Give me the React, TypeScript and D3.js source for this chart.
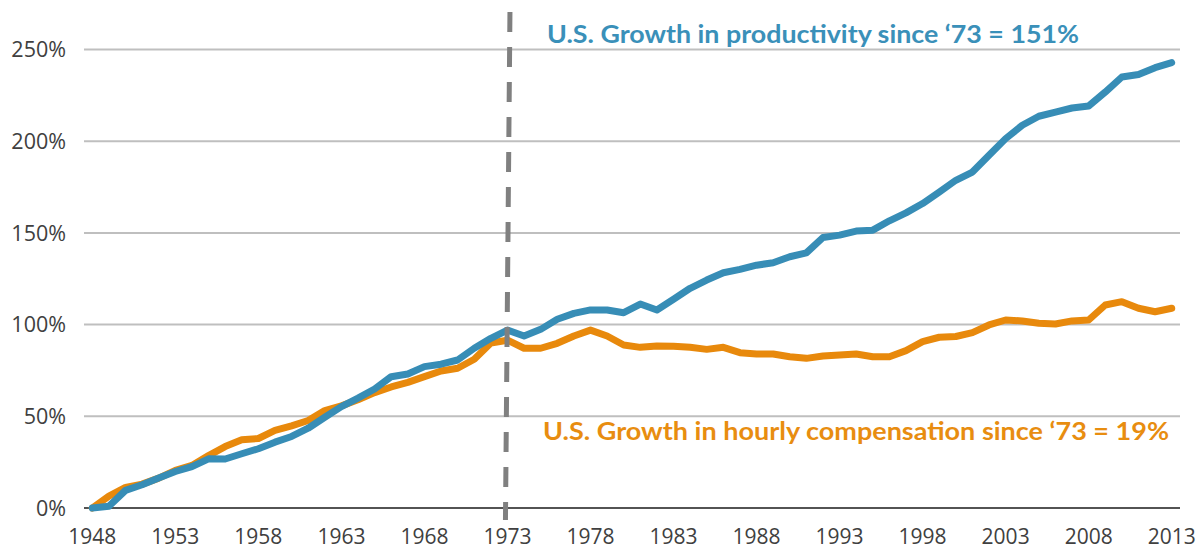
import React from "react";
import * as d3 from "d3";

const years: number[] = [
  1948, 1949, 1950, 1951, 1952, 1953, 1954, 1955, 1956, 1957,
  1958, 1959, 1960, 1961, 1962, 1963, 1964, 1965, 1966, 1967,
  1968, 1969, 1970, 1971, 1972, 1973, 1974, 1975, 1976, 1977,
  1978, 1979, 1980, 1981, 1982, 1983, 1984, 1985, 1986, 1987,
  1988, 1989, 1990, 1991, 1992, 1993, 1994, 1995, 1996, 1997,
  1998, 1999, 2000, 2001, 2002, 2003, 2004, 2005, 2006, 2007,
  2008, 2009, 2010, 2011, 2012, 2013,
];

const productivity: number[] = [
  0, 1, 9.6, 12.7, 16.3, 19.9, 22.6, 26.8, 26.7, 29.6,
  32.3, 35.9, 39, 43.5, 49.5, 55.3, 59.9, 64.9, 71.6, 73.1,
  77.1, 78.4, 80.7, 87.1, 92.5, 97.0, 93.8, 97.4, 102.9, 106.1,
  108, 108, 106.5, 111.2, 108, 113.8, 119.8, 124.3, 128.3, 130.1,
  132.4, 133.7, 137, 139.1, 147.5, 148.8, 151, 151.5, 156.6, 160.9,
  166, 172.3, 178.7, 183.2, 192.3, 201.4, 208.7, 213.6, 215.9, 218.1,
  219.2, 226.8, 235, 236.4, 240.1, 242.8,
];

const compensation: number[] = [
  0, 6.5, 11.2, 13, 16.3, 20.5, 23.2, 28.6, 33.5, 37.2,
  37.9, 42.3, 44.8, 47.7, 53.1, 55.7, 59, 62.9, 66, 68.5,
  71.6, 74.7, 76.2, 81.1, 90, 91.5, 87.1, 87.1, 89.8, 93.8,
  97, 93.8, 88.9, 87.6, 88.3, 88.2, 87.6, 86.5, 87.6, 84.7,
  84, 84, 82.5, 81.6, 82.9, 83.4, 84, 82.5, 82.5, 85.8,
  90.7, 93.1, 93.5, 95.6, 99.8, 102.5, 102, 100.7, 100.3, 102,
  102.5, 110.7, 112.5, 108.9, 107, 108.9,
];

const yTicks: number[] = [0, 50, 100, 150, 200, 250];
const xTickLabels: number[] = [1948, 1953, 1958, 1963, 1968, 1973, 1978, 1983, 1988, 1993, 1998, 2003, 2008, 2013];
const markerYear = 1973;
const prodLabel = "U.S. Growth in productivity since \u201873 = 151%";
const compLabel = "U.S. Growth in hourly compensation since \u201873 = 19%";

const W = 1202;
const H = 551;
const BLUE = "#378DB6";
const ORANGE = "#E8890C";

export default function App() {
  const x = d3.scaleBand<number>().domain(years).range([84, 1180]);
  const cx = (yr: number) => (x(yr) as number) + x.bandwidth() / 2;
  const y = d3.scaleLinear().domain([0, 250]).range([508, 49.5]);

  const line = d3
    .line<number>()
    .x((_, i) => cx(years[i]))
    .y((d) => y(d));

  const mx = cx(markerYear);
  const axisFont = "'Open Sans', 'Noto Sans', sans-serif";
  const titleFont = "Lato, 'Open Sans', sans-serif";

  return (
    <svg
      width={W}
      height={H}
      viewBox={`0 0 ${W} ${H}`}
      style={{ position: "absolute", left: 0, top: 0, background: "#fff" }}
    >
      <rect x={0} y={0} width={W} height={H} fill="#fff" />
      {yTicks.map((t) =>
        t === 0 ? null : (
          <line key={"g" + t} x1={84} x2={1180} y1={y(t)} y2={y(t)} stroke="#bfbfbf" strokeWidth={2} />
        )
      )}
      <line x1={84} x2={1180} y1={y(0)} y2={y(0)} stroke="#1a1a1a" strokeWidth={1.4} />
      {yTicks.map((t) => (
        <text
          key={"yl" + t}
          x={66}
          y={y(t)}
          dy="0.36em"
          textAnchor="end"
          fontFamily={axisFont}
          fontSize={21.5}
          fill="#404040"
        >
          {t + "%"}
        </text>
      ))}
      {xTickLabels.map((yr) => (
        <text
          key={"xl" + yr}
          x={cx(yr)}
          y={544}
          textAnchor="middle"
          fontFamily={axisFont}
          fontSize={21}
          fill="#404040"
        >
          {yr}
        </text>
      ))}
      <path d={line(compensation) || ""} fill="none" stroke={ORANGE} strokeWidth={7} strokeLinejoin="round" strokeLinecap="round" />
      <path d={line(productivity) || ""} fill="none" stroke={BLUE} strokeWidth={7} strokeLinejoin="round" strokeLinecap="round" />
      <line
        x1={mx + 2.5}
        y1={12}
        x2={mx - 2}
        y2={520}
        stroke="#808080"
        strokeWidth={5}
        strokeDasharray="20 15"
      />
      <text
        x={547}
        y={43}
        fontFamily={titleFont}
        fontWeight="bold"
        fontSize={25}
        fill="#3A90B9"
        textLength={532}
        lengthAdjust="spacingAndGlyphs"
      >
        {prodLabel}
      </text>
      <text
        x={543}
        y={440}
        fontFamily={titleFont}
        fontWeight="bold"
        fontSize={25}
        fill="#E88D10"
        textLength={626}
        lengthAdjust="spacingAndGlyphs"
      >
        {compLabel}
      </text>
    </svg>
  );
}
